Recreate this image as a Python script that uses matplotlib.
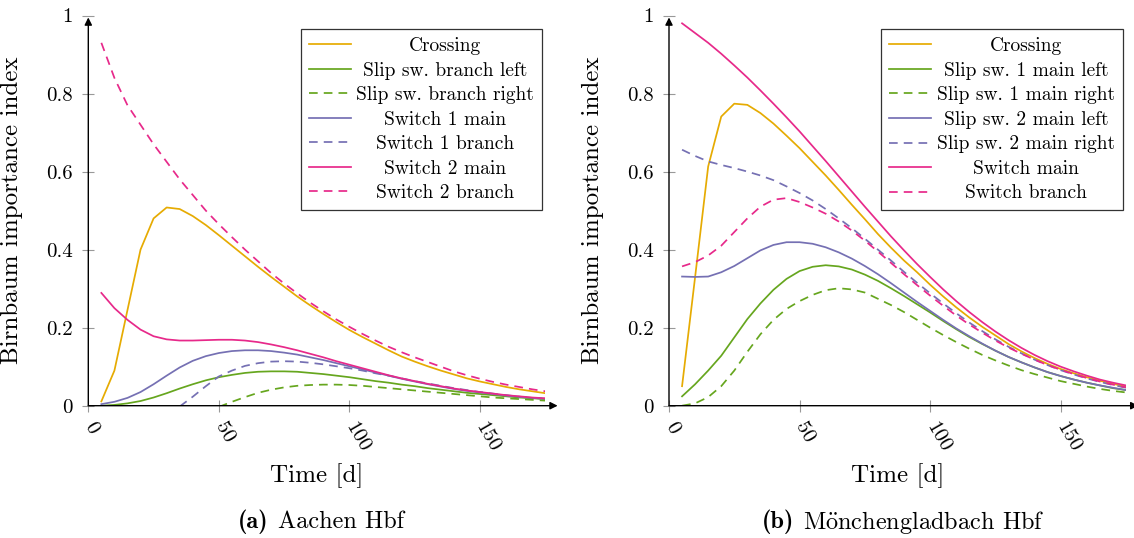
import matplotlib
matplotlib.use('Agg')
import matplotlib.pyplot as plt

plt.rcParams['font.family'] = ['cmr10', 'DejaVu Serif']
plt.rcParams['mathtext.fontset'] = 'cm'
plt.rcParams['axes.unicode_minus'] = False
plt.rcParams['axes.formatter.use_mathtext'] = True

# time grid [d]
time = list(range(5, 180, 5))

# Dark2 colours
c_orange = '#e6ab02'
c_green = '#66a61e'
c_purple = '#7570b3'
c_pink = '#e7298a'

# ---- Aachen Hbf ----
aa_crossing = [0.011, 0.09, 0.245, 0.40, 0.48, 0.508, 0.504, 0.486, 0.463, 0.437,
               0.41, 0.383, 0.356, 0.33, 0.305, 0.28, 0.257, 0.235, 0.214, 0.194,
               0.176, 0.159, 0.142, 0.126, 0.113, 0.101, 0.09, 0.08, 0.07, 0.062,
               0.055, 0.048, 0.042, 0.037, 0.032]
aa_slip_left = [0.0, 0.002, 0.006, 0.012, 0.021, 0.032, 0.044, 0.055, 0.065, 0.073,
                0.079, 0.084, 0.087, 0.088, 0.088, 0.087, 0.084, 0.081, 0.077, 0.073,
                0.068, 0.063, 0.059, 0.054, 0.05, 0.045, 0.041, 0.037, 0.033, 0.03,
                0.027, 0.024, 0.021, 0.019, 0.017]
# starts at t = 50
aa_slip_right = [-0.003, 0.01, 0.022, 0.033, 0.041, 0.047, 0.051, 0.053, 0.054, 0.054,
                 0.053, 0.051, 0.048, 0.045, 0.042, 0.039, 0.036, 0.033, 0.03, 0.027,
                 0.024, 0.021, 0.019, 0.017, 0.015, 0.013]
aa_sw1_main = [0.004, 0.01, 0.02, 0.035, 0.055, 0.077, 0.098, 0.115, 0.127, 0.135,
               0.14, 0.142, 0.142, 0.14, 0.136, 0.131, 0.124, 0.117, 0.109, 0.101,
               0.093, 0.085, 0.077, 0.069, 0.062, 0.055, 0.049, 0.043, 0.038, 0.034,
               0.03, 0.026, 0.023, 0.02, 0.018]
# starts at t = 35
aa_sw1_branch = [-0.002, 0.023, 0.05, 0.075, 0.09, 0.102, 0.109, 0.113, 0.114, 0.113,
                 0.11, 0.106, 0.101, 0.096, 0.09, 0.083, 0.077, 0.07, 0.063, 0.057,
                 0.051, 0.045, 0.04, 0.035, 0.031, 0.027, 0.023, 0.02, 0.018]
aa_sw2_main = [0.289, 0.25, 0.22, 0.195, 0.178, 0.17, 0.167, 0.167, 0.168, 0.169,
               0.169, 0.167, 0.163, 0.157, 0.15, 0.142, 0.133, 0.124, 0.114, 0.105,
               0.096, 0.087, 0.078, 0.07, 0.063, 0.056, 0.05, 0.044, 0.039, 0.035,
               0.031, 0.027, 0.024, 0.021, 0.019]
aa_sw2_branch = [0.93, 0.84, 0.77, 0.72, 0.67, 0.625, 0.58, 0.54, 0.50, 0.465,
                 0.432, 0.40, 0.37, 0.34, 0.313, 0.288, 0.264, 0.242, 0.221, 0.202,
                 0.184, 0.167, 0.151, 0.137, 0.124, 0.112, 0.1, 0.088, 0.078, 0.069,
                 0.061, 0.054, 0.048, 0.042, 0.037]

# ---- Moenchengladbach Hbf ----
mg_crossing = [0.05, 0.33, 0.613, 0.741, 0.774, 0.771, 0.75, 0.723, 0.692, 0.66,
               0.625, 0.59, 0.553, 0.515, 0.478, 0.44, 0.405, 0.372, 0.342, 0.31,
               0.28, 0.252, 0.226, 0.202, 0.18, 0.158, 0.139, 0.122, 0.107, 0.094,
               0.083, 0.073, 0.064, 0.056, 0.049]
mg_slip1_left = [0.024, 0.055, 0.09, 0.128, 0.175, 0.222, 0.262, 0.297, 0.325, 0.345,
                 0.356, 0.36, 0.357, 0.349, 0.336, 0.32, 0.301, 0.281, 0.26, 0.239,
                 0.217, 0.196, 0.176, 0.158, 0.141, 0.125, 0.111, 0.098, 0.086, 0.076,
                 0.067, 0.059, 0.052, 0.045, 0.04]
mg_slip1_right = [0.0, 0.006, 0.022, 0.05, 0.09, 0.138, 0.183, 0.22, 0.248, 0.268,
                  0.284, 0.296, 0.301, 0.298, 0.29, 0.274, 0.258, 0.24, 0.22, 0.2,
                  0.181, 0.163, 0.146, 0.13, 0.116, 0.103, 0.091, 0.081, 0.072, 0.063,
                  0.056, 0.049, 0.043, 0.038, 0.034]
mg_slip2_left = [0.331, 0.33, 0.331, 0.342, 0.358, 0.378, 0.398, 0.412, 0.419, 0.419,
                 0.415, 0.406, 0.393, 0.377, 0.358, 0.337, 0.314, 0.29, 0.266, 0.243,
                 0.22, 0.198, 0.178, 0.159, 0.141, 0.125, 0.111, 0.098, 0.086, 0.076,
                 0.067, 0.059, 0.052, 0.046, 0.04]
mg_slip2_right = [0.656, 0.64, 0.626, 0.617, 0.609, 0.6, 0.59, 0.578, 0.562, 0.545,
                  0.526, 0.504, 0.48, 0.455, 0.428, 0.40, 0.372, 0.343, 0.315, 0.288,
                  0.262, 0.237, 0.213, 0.191, 0.17, 0.151, 0.134, 0.118, 0.104, 0.091,
                  0.08, 0.07, 0.061, 0.053, 0.046]
mg_sw_main = [0.98, 0.955, 0.93, 0.902, 0.872, 0.841, 0.808, 0.774, 0.739, 0.703,
              0.665, 0.627, 0.588, 0.549, 0.51, 0.472, 0.434, 0.398, 0.363, 0.33,
              0.298, 0.268, 0.24, 0.214, 0.19, 0.168, 0.148, 0.13, 0.114, 0.1,
              0.088, 0.077, 0.067, 0.059, 0.052]
mg_sw_branch = [0.357, 0.368, 0.385, 0.41, 0.445, 0.48, 0.51, 0.528, 0.532, 0.522,
                0.508, 0.492, 0.472, 0.449, 0.423, 0.395, 0.366, 0.337, 0.309, 0.282,
                0.256, 0.231, 0.208, 0.187, 0.167, 0.149, 0.133, 0.118, 0.104, 0.092,
                0.081, 0.071, 0.062, 0.054, 0.047]

xticks = [0, 50, 100, 150]
yticks = [0, 0.2, 0.4, 0.6, 0.8, 1]
ytick_labels = ['0', '0.2', '0.4', '0.6', '0.8', '1']

panels = [
    ('(a)', 'Aachen Hbf', [
        ('Crossing', aa_crossing, c_orange, '-'),
        ('Slip sw. branch left', aa_slip_left, c_green, '-'),
        ('Slip sw. branch right', aa_slip_right, c_green, '--'),
        ('Switch 1 main', aa_sw1_main, c_purple, '-'),
        ('Switch 1 branch', aa_sw1_branch, c_purple, '--'),
        ('Switch 2 main', aa_sw2_main, c_pink, '-'),
        ('Switch 2 branch', aa_sw2_branch, c_pink, '--'),
    ]),
    ('(b)', r'M$\ddot{\mathrm{o}}$nchengladbach Hbf', [
        ('Crossing', mg_crossing, c_orange, '-'),
        ('Slip sw. 1 main left', mg_slip1_left, c_green, '-'),
        ('Slip sw. 1 main right', mg_slip1_right, c_green, '--'),
        ('Slip sw. 2 main left', mg_slip2_left, c_purple, '-'),
        ('Slip sw. 2 main right', mg_slip2_right, c_purple, '--'),
        ('Switch main', mg_sw_main, c_pink, '-'),
        ('Switch branch', mg_sw_branch, c_pink, '--'),
    ]),
]

W, H = 1134, 538
fig = plt.figure(figsize=(W / 100, H / 100), dpi=100)

ax_left_px = [88.3, 669]
ax_w_px = 457
ax_bottom_px = 405.7
ax_top_px = 15.5
caption_center_px = [321, 903]

legends = []
for i, (letter, name, series) in enumerate(panels):
    ax = fig.add_axes([ax_left_px[i] / W, (H - ax_bottom_px) / H,
                       ax_w_px / W, (ax_bottom_px - ax_top_px) / H])
    for label, vals, col, ls in series:
        t = time[-len(vals):]
        line, = ax.plot(t, vals, color=col, lw=1.25, label=label)
        if ls == '--':
            line.set_dashes((5, 3.5))
    ax.set_xlim(0, 175)
    ax.set_ylim(0, 1)
    for s in ax.spines.values():
        s.set_visible(False)
    ax.annotate('', xy=(1.027, 0), xytext=(0, 0), xycoords='axes fraction',
                arrowprops=dict(arrowstyle='-|>', color='black', lw=1,
                                mutation_scale=11, shrinkA=0, shrinkB=0))
    ax.annotate('', xy=(0, 0.995), xytext=(0, 0), xycoords='axes fraction',
                arrowprops=dict(arrowstyle='-|>', color='black', lw=1,
                                mutation_scale=11, shrinkA=0, shrinkB=0))
    ax.set_xticks(xticks)
    ax.set_xticklabels([str(v) for v in xticks], rotation=-60, ha='left',
                       va='center', rotation_mode='anchor')
    ax.set_yticks(yticks)
    ax.set_yticklabels(ytick_labels)
    ax.tick_params(direction='inout', length=8, width=0.8, color='0.6',
                   labelsize=15, pad=7)
    ax.tick_params(axis='x', pad=8.5)
    ax.set_xlabel('Time [d]', fontsize=18)
    ax.xaxis.set_label_coords(0.5, -0.147)
    ax.set_ylabel('Birnbaum importance index', fontsize=18)
    ax.yaxis.set_label_coords(-0.142, 0.5)
    leg = ax.legend(loc='upper right', bbox_to_anchor=(0.993, 0.965),
                    borderaxespad=0, fontsize=14, frameon=True, fancybox=False,
                    framealpha=1, edgecolor='0.2', handlelength=2.15,
                    handletextpad=0.3, labelspacing=0.34, borderpad=0.4)
    leg.get_frame().set_linewidth(0.9)
    legends.append(leg)

# captions
cap_y = 1 - 522 / H
fig.canvas.draw()
r = fig.canvas.get_renderer()
for i, (letter, name, series) in enumerate(panels):
    t1 = fig.text(0, cap_y, letter, family='cmb10', fontsize=17.5, va='center')
    t2 = fig.text(0, cap_y, name, fontsize=17.5, va='center')
    w1 = t1.get_window_extent(r).width
    w2 = t2.get_window_extent(r).width
    gap = 9
    x0 = caption_center_px[i] - (w1 + gap + w2) / 2
    t1.set_x(x0 / W)
    t2.set_x((x0 + w1 + gap) / W)

# centre the legend entries like pgfplots
for leg in legends:
    texts = leg.get_texts()
    ws = [t.get_window_extent(r).width for t in texts]
    m = max(ws)
    for t, w in zip(texts, ws):
        t.set_x((m - w) / 2)

fig.savefig('out.png', dpi=100)
